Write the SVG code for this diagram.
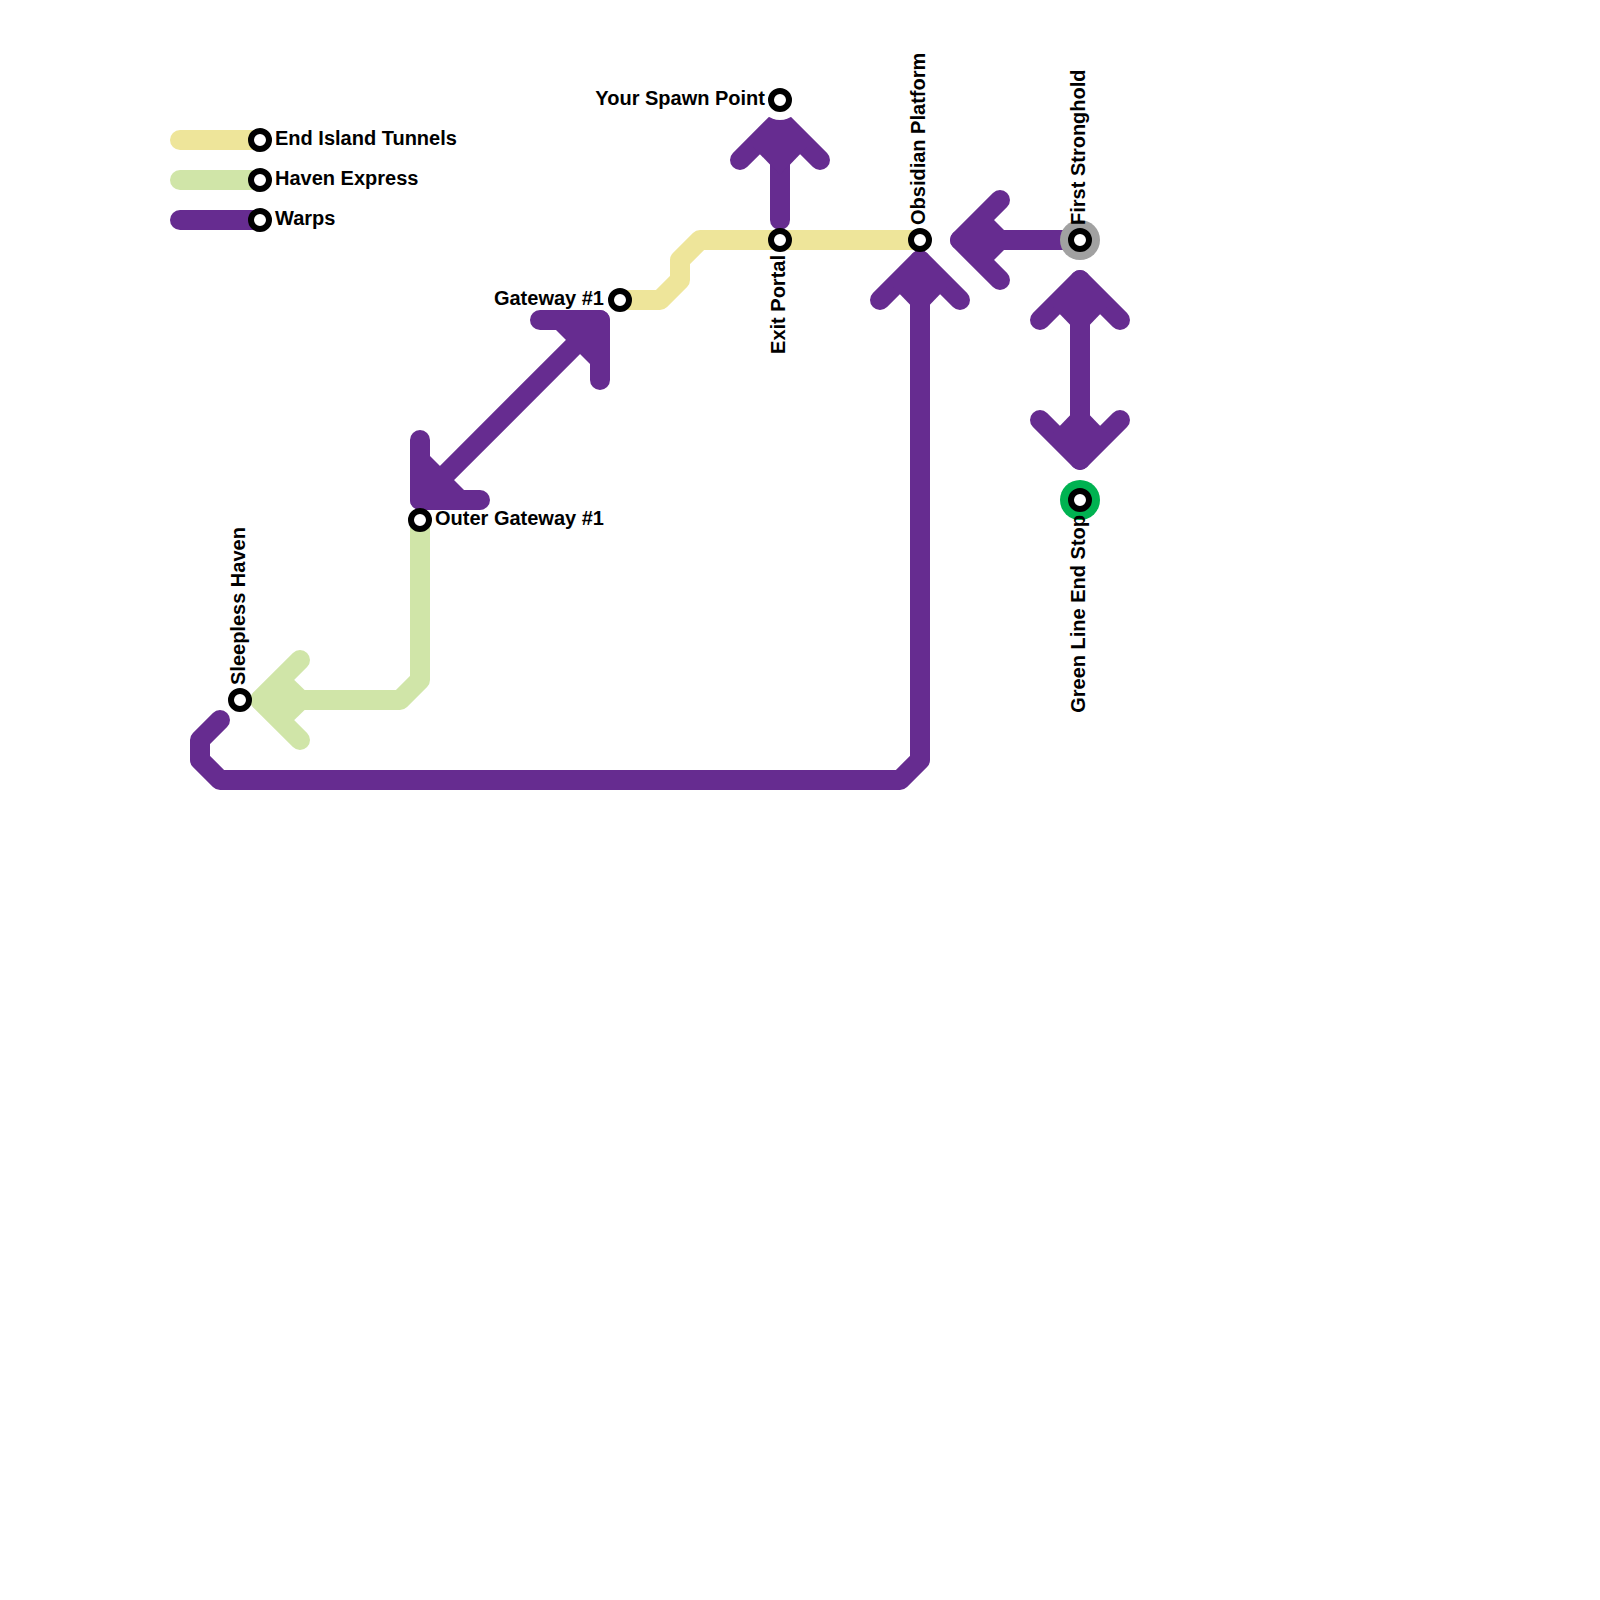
<svg xmlns="http://www.w3.org/2000/svg" width="1600" height="1600" viewBox="0 0 1600 1600">
<style>
.l{fill:none;stroke-width:20;stroke-linecap:round;stroke-linejoin:round}
.y{stroke:#EEE59A}
.g{stroke:#D0E5A8}
.p{stroke:#662C90}
.fg{fill:#D0E5A8}
.fp{fill:#662C90}
.st{fill:#fff;stroke:#000;stroke-width:6}
text{font-family:"Liberation Sans",Arial,sans-serif;font-weight:700;font-size:20px;fill:#000}
.e{text-anchor:end}
</style>
<rect width="1600" height="1600" fill="#fff"/>
<g id="connectors">
<path class="l y" d="M180 140H260"/>
<path class="l g" d="M180 180H260"/>
<path class="l p" d="M180 220H260"/>
<path class="l y" d="M620 300H660L680 280V260L700 240H920"/>
<path class="l g" d="M420 520V680L400 700H260"/>
<path class="l g" d="M300 660L260 700L300 740"/>
<polygon class="fg" points="260,700 287,673 315,700 287,727"/>
<path class="l p" d="M220 720L200 740V760L220 780H900L920 760V260"/>
<path class="l p" d="M880 300L920 260L960 300"/>
<polygon class="fp" points="920,260 893,287 920,315 947,287"/>
<path class="l p" d="M780 220V120"/>
<path class="l p" d="M740 160L780 120L820 160"/>
<polygon class="fp" points="780,120 753,147 780,175 807,147"/>
<path class="l p" d="M600 320L420 500"/>
<path class="l p" d="M540 320H600V380"/>
<polygon class="fp" points="600,320 546,320 600,374"/>
<path class="l p" d="M420 440V500H480"/>
<polygon class="fp" points="420,500 420,446 474,500"/>
<path class="l p" d="M1080 240H960"/>
<path class="l p" d="M1000 200L960 240L1000 280"/>
<polygon class="fp" points="960,240 987,213 1014,240 987,267"/>
<path class="l p" d="M1080 280V460"/>
<path class="l p" d="M1040 320L1080 280L1120 320"/>
<polygon class="fp" points="1080,280 1053,307 1080,335 1107,307"/>
<path class="l p" d="M1040 420L1080 460L1120 420"/>
<polygon class="fp" points="1080,460 1053,433 1080,405 1107,433"/>
</g>
<g id="legend-end-island-tunnels"><circle class="st" cx="260" cy="140" r="9"/><text x="275" y="145">End Island Tunnels</text></g>
<g id="legend-haven-express"><circle class="st" cx="260" cy="180" r="9"/><text x="275" y="185">Haven Express</text></g>
<g id="legend-warps"><circle class="st" cx="260" cy="220" r="9"/><text x="275" y="225">Warps</text></g>
<g id="your-spawn-point"><circle cx="780" cy="100" r="20" fill="#fff"/><circle class="st" cx="780" cy="100" r="9"/><text class="e" x="765" y="105">Your Spawn Point</text></g>
<g id="exit-portal"><circle class="st" cx="780" cy="240" r="9"/><text class="e" transform="translate(785 255) rotate(-90)">Exit Portal</text></g>
<g id="obsidian-platform"><circle class="st" cx="920" cy="240" r="9"/><text transform="translate(925 225) rotate(-90)">Obsidian Platform</text></g>
<g id="first-stronghold"><circle cx="1080" cy="240" r="20" fill="#A1A1A1"/><circle class="st" cx="1080" cy="240" r="9"/><text transform="translate(1085 225) rotate(-90)">First Stronghold</text></g>
<g id="green-line-end-stop"><circle cx="1080" cy="500" r="20" fill="#00B251"/><circle class="st" cx="1080" cy="500" r="9"/><text class="e" transform="translate(1085 515) rotate(-90)">Green Line End Stop</text></g>
<g id="gateway-1"><circle class="st" cx="620" cy="300" r="9"/><text class="e" x="604" y="305">Gateway #1</text></g>
<g id="outer-gateway-1"><circle class="st" cx="420" cy="520" r="9"/><text x="435" y="525">Outer Gateway #1</text></g>
<g id="sleepless-haven"><circle class="st" cx="240" cy="700" r="9"/><text transform="translate(245 685) rotate(-90)">Sleepless Haven</text></g>
</svg>
